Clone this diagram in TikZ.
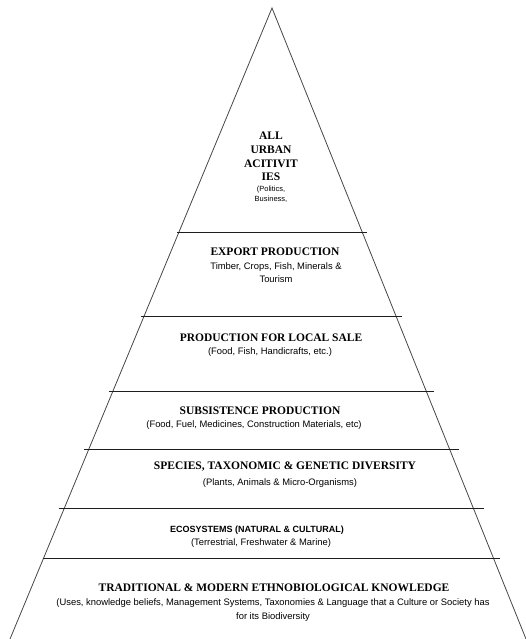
\documentclass[tikz,border=0pt]{standalone}
\usepackage{fontspec}
\setmainfont{Liberation Serif}
\setsansfont{Liberation Sans}
\usetikzlibrary{calc}
\definecolor{mygray1}{RGB}{70, 70, 70}
\definecolor{mygray2}{RGB}{30, 30, 30}

\begin{document}
\begin{tikzpicture}[
    x = 1pt, y = -1pt,
    side/.style = {line width = 0.8pt, mygray1},
    band/.style = {line width = 1pt, mygray2},
    head/.style = {font = \fontsize{11.5}{13.7}\selectfont\bfseries, inner sep = 0pt, align = center},
    sub/.style = {font = \sffamily\fontsize{9.4}{13}\selectfont, inner sep = 0pt, align = center},
]
\useasboundingbox (0,0) rectangle (526,639);

% pyramid
\coordinate (apex) at (272,8);
\coordinate (bl) at (10,639);
\coordinate (br) at (526,639);
\draw[side] (bl) -- (apex) -- (br);

\foreach \y/\l/\r in {232/177/367, 316/141/402, 391/109/434, 449/84/459, 508/59/484, 558/43/500}
  \draw[band] (\l,\y) -- (\r,\y);

% top
\node[head] (urban) at (271,156.5) {ALL\\URBAN\\ACITIVIT\\IES};
\node[sub, font = \sffamily\fontsize{7.5}{10}\selectfont] (urbansub) at (271,194) {(Politics,\\Business,};

\node[head] (export) at (275,252) {EXPORT PRODUCTION};
\node[sub] (exportsub) at (276,272.5) {Timber, Crops, Fish, Minerals \&\\Tourism};

\node[head] (local) at (271,338) {PRODUCTION FOR LOCAL SALE};
\node[sub] (localsub) at (270,352) {(Food, Fish, Handicrafts, etc.)};

\node[head] (subsist) at (260,411) {SUBSISTENCE PRODUCTION};
\node[sub] (subsistsub) at (254,425) {(Food, Fuel, Medicines, Construction Materials, etc)};

\node[head] (species) at (285,467) {SPECIES, TAXONOMIC \& GENETIC DIVERSITY};
\node[sub] (speciessub) at (280,483) {(Plants, Animals \& Micro-Organisms)};

\node[sub, font = \sffamily\bfseries\fontsize{9}{13}\selectfont] (eco) at (257,530) {ECOSYSTEMS (NATURAL \& CULTURAL)};
\node[sub] (ecosub) at (261,543) {(Terrestrial, Freshwater \& Marine)};

% bottom
\node[head] (know) at (274,588) {TRADITIONAL \& MODERN ETHNOBIOLOGICAL KNOWLEDGE};
\node[sub, font = \sffamily\fontsize{9.4}{14}\selectfont] (knowsub) at (273,610) {(Uses, knowledge beliefs, Management Systems, Taxonomies \& Language that a Culture or Society has\\for its Biodiversity};

\end{tikzpicture}
\end{document}
